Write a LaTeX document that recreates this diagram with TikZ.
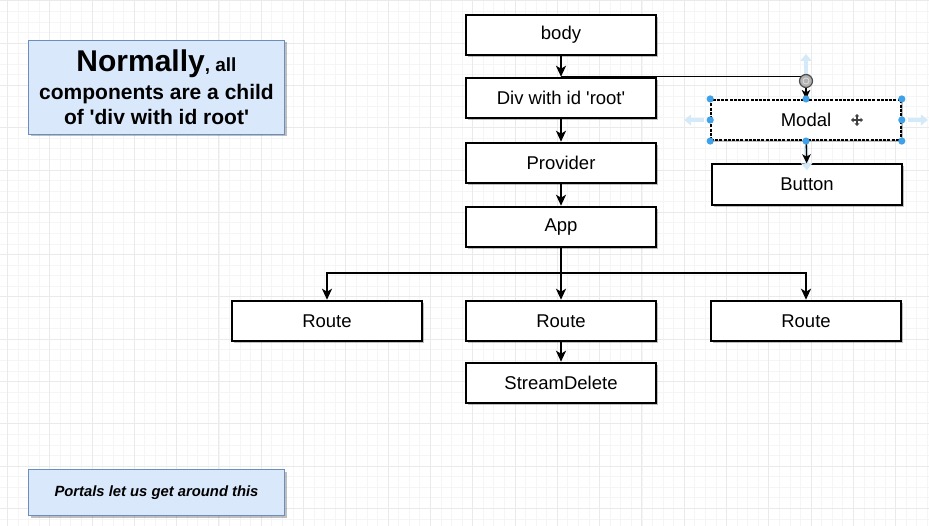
\documentclass[tikz,border=0pt]{standalone}
\usepackage{fontspec}
\setmainfont{Liberation Sans}
\usetikzlibrary{arrows.meta,shadows}
\definecolor{calloutfill}{HTML}{DAE8FC}
\definecolor{calloutline}{HTML}{6C8EBF}
\definecolor{gridminor}{HTML}{F5F5F5}
\definecolor{gridmajor}{HTML}{EAEAEA}
\definecolor{handleblue}{HTML}{3FA2E8}
\definecolor{hoverblue}{HTML}{D4EAF9}
\newcommand\squo{\textquotesingle}

\begin{document}
\begin{tikzpicture}[x=1pt,y=-1pt,
  boxshadow/.style={drop shadow={shadow xshift=2pt,shadow yshift=-2pt,fill=black,opacity=.25}},
  compbox/.style={draw=black,line width=2pt,fill=white,minimum width=190pt,
    minimum height=40.5pt,inner sep=0pt,font=\fontsize{18.5}{22}\selectfont,boxshadow},
  callout/.style={draw=calloutline,line width=1.4pt,fill=calloutfill,
    minimum width=256pt,inner sep=0pt,align=center,boxshadow},
  conn/.style={line width=2pt,-{Stealth[length=11pt,width=10pt,inset=3pt]}},
  thinconn/.style={line width=1.4pt,-{Stealth[length=9pt,width=8.5pt,inset=2.5pt]}},
  hover/.style={line width=4pt,hoverblue,-{Triangle[length=7pt,width=11pt]}},
  handle/.style={fill=handleblue},
]
% canvas and grid
\useasboundingbox (0,0) rectangle (929,526);
\fill[white] (0,0) rectangle (929,526);
\foreach \i in {0,...,88}
  \draw[gridminor,line width=0.8pt] ({-3.175+\i*10.575},0) -- ++(0,526);
\foreach \i in {0,...,50}
  \draw[gridminor,line width=0.8pt] (0,{0.8+\i*10.575}) -- ++(929,0);
\foreach \i in {0,...,22}
  \draw[gridmajor,line width=0.9pt] ({7.4+\i*42.3},0) -- ++(0,526);
\foreach \i in {0,...,12}
  \draw[gridmajor,line width=0.9pt] (0,{0.8+\i*42.3}) -- ++(929,0);

% notes
\node[callout,minimum height=94pt,font=\fontsize{21}{25}\selectfont\bfseries] (normally) at (156.5,87.5)
  {{\fontsize{30}{30}\selectfont Normally}{\fontsize{19}{22}\selectfont, all}\\[3pt]
   components are a child\\
   of \squo div with id root\squo};
\node[callout,minimum height=46pt,font=\fontsize{14.8}{17}\selectfont\bfseries\itshape] (portals) at (156.5,492.5)
  {Portals let us get around this};

% component tree
\node[compbox] (body) at (561,35) {body};
\node[compbox] (div) at (561,98) {Div with id \squo root\squo};
\node[compbox] (provider) at (561,163) {Provider};
\node[compbox] (app) at (561,227) {App};
\node[compbox] (routeA) at (327,321) {Route};
\node[compbox] (routeB) at (561,321) {Route};
\node[compbox] (routeC) at (806,321) {Route};
\node[compbox] (stream) at (561,383) {StreamDelete};
\node[compbox,line width=1.6pt,dash pattern=on 3pt off 1.2pt] (modal) at (806,120) {Modal};
\node[compbox] (button) at (807,184.5) {Button};

% hover arrows around the selected shape
\draw[hover] ([yshift=25pt]modal.north) -- ++(0,-20);
\draw[hover] ([xshift=-6pt]modal.west) -- ++(-20,0);
\draw[hover] ([xshift=6pt]modal.east) -- ++(20,0);
\draw[hover] ([yshift=-5pt]modal.south) -- ([yshift=-7pt]button.north);

% connectors
\draw[conn] (body) -- (div);
\draw[conn] (div) -- (provider);
\draw[conn] (provider) -- (app);
\draw[conn] (app.south) -- ++(0,25) -| (routeA.north);
\draw[conn] (app.south) -- ++(0,25) -| (routeC.north);
\draw[conn] (app) -- (routeB);
\draw[conn] (routeB) -- (stream);
\draw[thinconn] (div.north) -| (modal.north);
\draw[thinconn] (modal) -- (button);

% selection handles
\foreach \a in {north west,north,north east,east,south east,south,south west,west}
  \fill[handle] (modal.\a) circle (3.6pt);
\filldraw[fill=black!30,draw=black!70,line width=1.2pt] (806,81) circle (6.5pt);
\draw[white!85!black,line width=0.9pt] (806,81) circle (3pt);

% move cursor
\draw[line width=1.2pt,black!75,{Triangle[length=2.5pt,width=4.5pt]}-{Triangle[length=2.5pt,width=4.5pt]}]
  (851,120) -- (863,120);
\draw[line width=1.2pt,black!75,{Triangle[length=2.5pt,width=4.5pt]}-{Triangle[length=2.5pt,width=4.5pt]}]
  (857,114) -- (857,126);
\end{tikzpicture}
\end{document}
